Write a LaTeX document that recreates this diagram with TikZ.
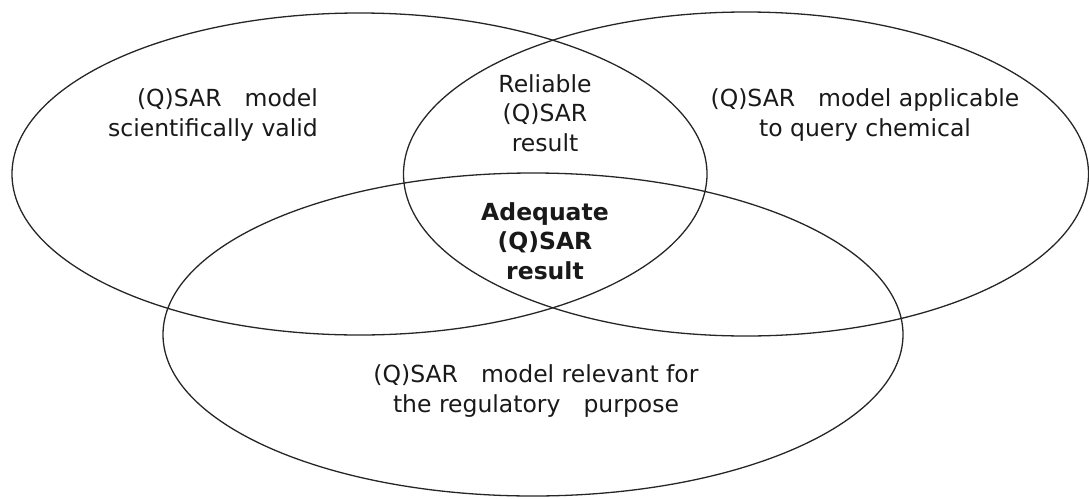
\documentclass[tikz,border=0pt]{standalone}
\usepackage{fontspec}
\setmainfont{DejaVu Sans}
\newcommand{\wgap}{\hspace{23pt}}
\begin{document}
\begin{tikzpicture}[x=1pt,y=-1pt,
  ring/.style={draw=black!85,line width=1.3pt},
  lbl/.style={font=\fontsize{23.5}{29.5}\selectfont,text=black!90,inner sep=0pt},
  blbl/.style={lbl,font=\fontsize{23.5}{29.5}\selectfont\bfseries}]
\useasboundingbox (0,0) rectangle (1089,498);
\draw[ring] (359.5,174) ellipse [x radius=347.5pt, y radius=161pt];
\draw[ring] (746,174) ellipse [x radius=342.5pt, y radius=162pt];
\draw[ring] (533,334.5) ellipse [x radius=370pt, y radius=161.5pt];
\node[lbl,align=right,anchor=east] (valid) at (318,115) {(Q)SAR\wgap model\\scientifically valid};
\node[lbl,align=center] (appl) at (865,115) {(Q)SAR\wgap model applicable\\to query chemical};
\node[lbl,align=center] (reli) at (545,113) {Reliable\\(Q)SAR\\result};
\node[blbl,align=center] (adeq) at (545,241) {Adequate\\(Q)SAR\\result};
\node[lbl,align=center] (relev) at (536,391) {(Q)SAR\wgap model relevant for\\the regulatory\wgap purpose};
\end{tikzpicture}
\end{document}
